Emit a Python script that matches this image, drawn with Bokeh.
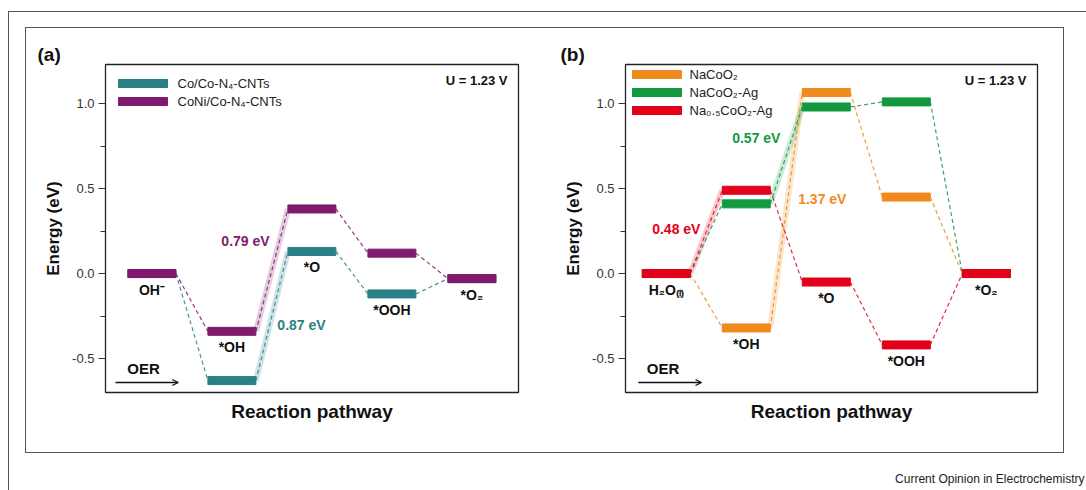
from bokeh.plotting import figure
from bokeh.layouts import row
from bokeh.models import (Range1d, FixedTicker, Arrow, OpenHead, Title, LinearAxis,
                          CustomJSTickFormatter, InlineStyleSheet)
from bokeh.embed import file_html
from bokeh.resources import INLINE
from bokeh.core.properties import value

# ---------------- data ----------------
steps_a = ["OH⁻", "*OH", "*O", "*OOH", "*O₂"]
co_n4_cnts = [0.00, -0.63, 0.13, -0.12, -0.03]
coni_n4_cnts = [0.00, -0.34, 0.38, 0.12, -0.03]
names_a = ["Co/Co-N₄-CNTs", "CoNi/Co-N₄-CNTs"]
gaps_a = ["0.87 eV", "0.79 eV"]

steps_b = ["H₂O₍ₗ₎", "*OH", "*O", "*OOH", "*O₂"]
nacoo2 = [0.00, -0.32, 1.065, 0.45, 0.00]
nacoo2_ag = [0.00, 0.41, 0.98, 1.01, 0.00]
na05coo2_ag = [0.00, 0.49, -0.05, -0.42, 0.00]
names_b = ["NaCoO₂", "NaCoO₂-Ag", "Na₀.₅CoO₂-Ag"]
gaps_b = ["1.37 eV", "0.57 eV", "0.48 eV"]

y_ticks = [-0.5, 0.0, 0.5, 1.0]
y_minor = [-0.25, 0.25, 0.75]
potential = "U = 1.23 V"
caption = "Current Opinion in Electrochemistry"

FONT = "Liberation Sans"
TEAL, MAGENTA = "#2b7f86", "#811a6e"
ORANGE, GREEN, RED = "#f08a1d", "#12993f", "#e2001a"

Y0, Y1 = -0.70, 1.23
H = 490
TOP, BOTTOM = 64, 98
PXY = (H - TOP - BOTTOM) / (Y1 - Y0)
PXX = 80.0
HW = 0.30
BAR_H = 8 / PXY


def make_panel(width, bl, br, x0, page_left, series, names, colors, hl_step,
               steps, under, gaps, gap_xy, tag, tag_left, oer_x, arrow_x,
               leg_left, leg_top, leg_text_left, cap=None):
    x1 = x0 + (width - bl - br) / PXX
    p = figure(width=width, height=H, output_backend="svg", toolbar_location=None,
               x_range=Range1d(x0, x1), y_range=Range1d(Y0, Y1),
               min_border_left=bl, min_border_right=br,
               min_border_top=TOP, min_border_bottom=BOTTOM)
    p.grid.visible = False
    p.outline_line_color = "#222222"
    p.outline_line_width = 1.3
    p.background_fill_color = "white"
    p.border_fill_color = "white"

    fl = page_left + bl  # frame left in page px

    def X(px):
        return x0 + (px - fl) / PXX

    def Y(py):
        return Y1 - (py - TOP) / PXY

    # panel tag
    p.add_layout(Title(text=tag, align="left", offset=tag_left - fl, standoff=0,
                       text_font=FONT, text_font_style="bold", text_font_size="19px",
                       text_color="#111111"), "above")

    # y axis
    ax = p.yaxis[0]
    ax.ticker = FixedTicker(ticks=y_ticks, minor_ticks=y_minor)
    ax.formatter = CustomJSTickFormatter(code="return tick.toFixed(1);")
    ax.axis_label = "Energy (eV)"
    ax.axis_label_text_font = FONT
    ax.axis_label_text_font_style = "bold"
    ax.axis_label_text_font_size = "17px"
    ax.axis_label_text_color = "#111111"
    ax.axis_label_standoff = 6
    ax.major_label_text_font = FONT
    ax.major_label_text_font_size = "13px"
    ax.major_label_text_color = "#333333"
    ax.major_label_standoff = 4
    ax.major_tick_out = 7
    ax.major_tick_in = 0
    ax.minor_tick_out = 5
    ax.minor_tick_in = 0
    ax.axis_line_color = "#222222"
    ax.major_tick_line_color = "#333333"
    ax.minor_tick_line_color = "#333333"

    xa = p.xaxis[0]
    xa.ticker = FixedTicker(ticks=[])
    xa.axis_label = "Reaction pathway"
    xa.axis_label_text_font = FONT
    xa.axis_label_text_font_style = "bold"
    xa.axis_label_text_font_size = "19px"
    xa.axis_label_text_color = "#111111"
    xa.axis_label_standoff = 8
    xa.major_tick_out = 0
    xa.major_label_standoff = 0
    xa.minor_tick_line_color = None
    xa.axis_line_color = "#222222"

    if cap:
        # empty spacer axis so that the caption sits near the bottom edge
        spacer = LinearAxis(ticker=FixedTicker(ticks=[]), axis_line_color=None,
                            major_tick_out=0, major_tick_in=0, minor_tick_out=0,
                            minor_tick_in=0, major_label_standoff=0,
                            major_tick_line_color=None, minor_tick_line_color=None,
                            axis_label=" ", axis_label_standoff=cap[2],
                            axis_label_text_font_size="12px")
        p.add_layout(spacer, "below")
        p.add_layout(Title(text=cap[0], align="right",
                           offset=(page_left + width - br) - cap[1],
                           standoff=0, text_font=FONT, text_font_style="normal",
                           text_font_size="12px", text_color="#222222"), "below")

    idx = list(range(len(steps)))
    # highlight of rate-limiting step + dashed connectors
    for vals, col, hs in zip(series, colors, hl_step):
        p.segment(x0=[hs + HW], y0=[vals[hs]], x1=[hs + 1 - HW], y1=[vals[hs + 1]],
                  line_color=col, line_alpha=0.22, line_width=6)
    for vals, col in zip(series, colors):
        p.segment(x0=[i + HW for i in idx[:-1]], y0=vals[:-1],
                  x1=[i + 1 - HW for i in idx[:-1]], y1=vals[1:],
                  line_color=col, line_alpha=0.85, line_width=1.2, line_dash="4 3")
    for vals, col in zip(series, colors):
        p.hbar(y=vals, left=[i - HW for i in idx], right=[i + HW for i in idx],
               height=BAR_H, fill_color=col, line_color=col)

    # legend (swatch + label)
    for k, (nm, col) in enumerate(zip(names, colors)):
        yy = Y(leg_top + 18 * k)
        p.hbar(y=[yy], left=[X(leg_left)], right=[X(leg_left + 49)], height=BAR_H,
               fill_color=col, line_color=col)
        p.text(x=[X(leg_text_left)], y=[yy], text=[nm], text_font=value(FONT),
               text_font_size="13px", text_align="left", text_baseline="middle",
               text_color="#222222")

    # state labels under bars
    ly = [series[u][i] - 16 / PXY for i, u in zip(idx, under)]
    p.text(x=idx, y=ly, text=steps, text_font=value(FONT), text_font_style="bold",
           text_font_size="14px", text_align="center", text_baseline="middle",
           text_color="#111111")

    # energy gap labels
    for g, col, (gx, gy) in zip(gaps, colors, gap_xy):
        p.text(x=[gx], y=[gy], text=[g], text_font=value(FONT), text_font_style="bold",
               text_font_size="14px", text_align="center", text_baseline="middle",
               text_color=col)

    # potential
    p.text(x=[x1 - 11 / PXX], y=[Y1 - 16 / PXY], text=[potential], text_font=value(FONT),
           text_font_style="bold", text_font_size="13px", text_align="right",
           text_baseline="middle", text_color="#111111")

    # OER arrow
    p.text(x=[oer_x], y=[-0.5 - 10 / PXY], text=["OER"], text_font=value(FONT),
           text_font_style="bold", text_font_size="15px", text_align="center",
           text_baseline="middle", text_color="#111111")
    p.add_layout(Arrow(end=OpenHead(size=6, line_width=1.3, line_color="#111111"),
                       x_start=arrow_x[0], y_start=-0.5 - 24 / PXY,
                       x_end=arrow_x[1], y_end=-0.5 - 24 / PXY,
                       line_width=1.3, line_color="#111111"))
    return p


pa = make_panel(
    width=543, bl=105, br=25, x0=-0.58, page_left=0,
    series=[co_n4_cnts, coni_n4_cnts], names=names_a, colors=[TEAL, MAGENTA],
    hl_step=[1, 1], steps=steps_a, under=[1, 1, 0, 0, 1], gaps=gaps_a,
    gap_xy=[(1.87, -0.30), (1.17, 0.19)], tag="(a)", tag_left=37,
    oer_x=-0.105, arrow_x=(-0.455, 0.33),
    leg_left=118, leg_top=83, leg_text_left=177)

vals_b = [nacoo2, nacoo2_ag, na05coo2_ag]
under_b = [min(range(3), key=lambda s: vals_b[s][i]) for i in range(5)]
pb = make_panel(
    width=543, bl=82, br=49, x0=-0.51, page_left=543,
    series=vals_b, names=names_b, colors=[ORANGE, GREEN, RED],
    hl_step=[1, 1, 0], steps=steps_b, under=under_b, gaps=gaps_b,
    gap_xy=[(1.95, 0.44), (1.125, 0.80), (0.125, 0.265)], tag="(b)", tag_left=560,
    oer_x=-0.04, arrow_x=(-0.35, 0.44),
    leg_left=632, leg_top=74, leg_text_left=689,
    cap=(caption, 1084, 28))

frames_css = InlineStyleSheet(css="""
:host { position: relative; }
:host::before { content: ""; position: absolute; left: 25px; top: 27px; width: 1039px;
  height: 426px; border: 1.2px solid #555555; box-sizing: border-box;
  pointer-events: none; z-index: 5; }
:host::after { content: ""; position: absolute; left: 8px; top: 11px; width: 1078px;
  height: 479px; border-left: 1.2px solid #555555; border-top: 1.2px solid #555555;
  box-sizing: border-box; pointer-events: none; z-index: 5; }
""")

layout = row(pa, pb, spacing=0, stylesheets=[frames_css])
open("out.html", "w").write(file_html(layout, INLINE))
